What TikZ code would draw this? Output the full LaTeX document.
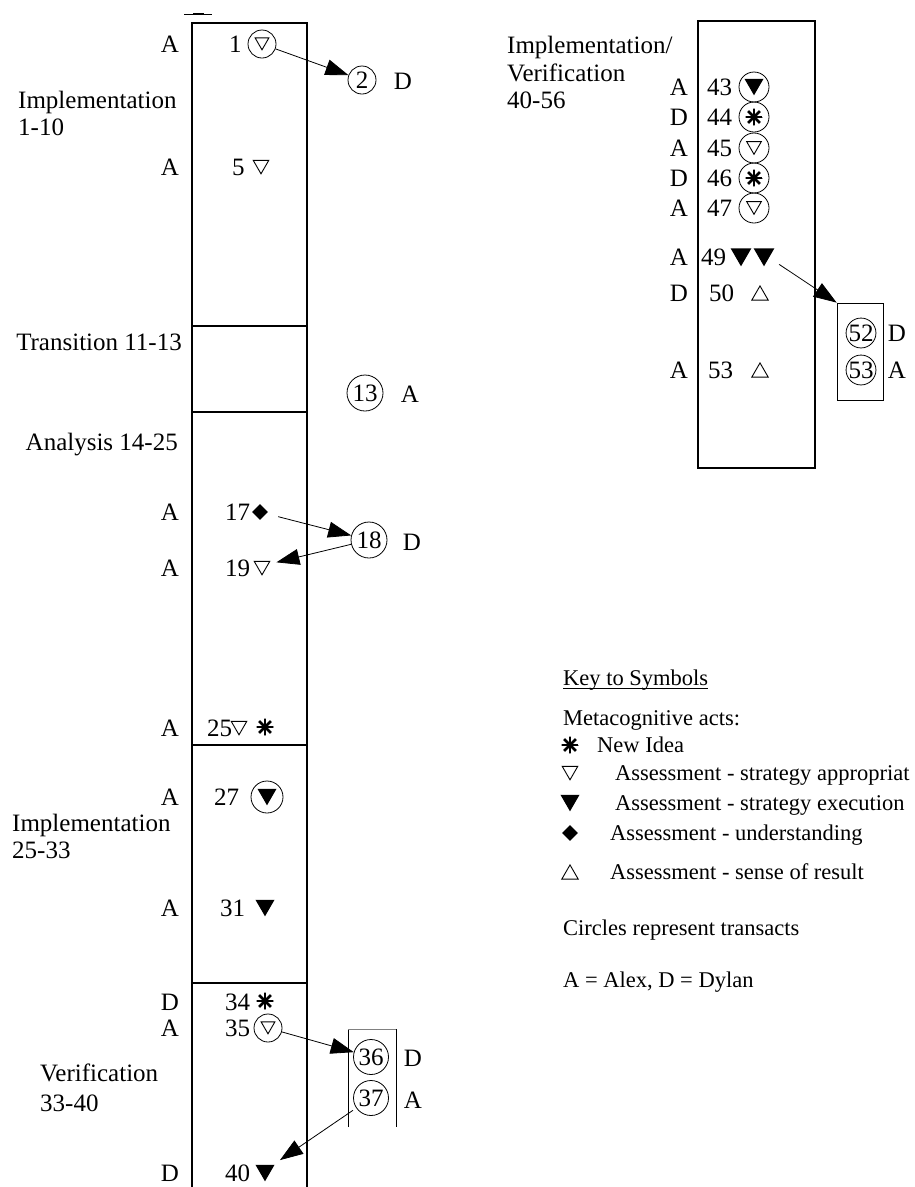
\documentclass[tikz,border=0pt]{standalone}
\usepackage{fontspec}
\setmainfont{Liberation Serif}
\usetikzlibrary{arrows.meta,shapes.geometric}
\begin{document}
\begin{tikzpicture}[x=1pt,y=-1pt,
  lbl/.style={font=\fontsize{25}{28}\selectfont, inner sep=0pt, text height=16.5pt, text depth=0pt},
  keytxt/.style={font=\fontsize{22.5}{26}\selectfont, inner sep=0pt, text height=15pt, text depth=0pt},
  col/.style={line width=2.8pt},
  thinbox/.style={line width=0.8pt},
  circ/.style={circle, draw, line width=0.8pt, inner sep=0pt, minimum size=28pt,
    font=\fontsize{25}{28}\selectfont, text height=16.5pt, text depth=0pt},
  trdown/.style={regular polygon, regular polygon sides=3, shape border rotate=180,
    draw, line width=0.9pt, inner sep=0pt, minimum size=18pt, yshift=2.2pt},
  trfill/.style={regular polygon, regular polygon sides=3, shape border rotate=180,
    fill, inner sep=0pt, minimum size=22pt, yshift=2.7pt},
  trup/.style={regular polygon, regular polygon sides=3, draw, line width=0.9pt,
    inner sep=0pt, minimum size=19pt, yshift=-2.4pt},
  dia/.style={diamond, fill, inner sep=0pt, minimum size=16pt},
  aster/.style={circle, inner sep=0pt, minimum size=17pt,
    path picture={\foreach \a in {0,45,90,135}{
      \draw[line width=2.6pt] ([shift={(\a:9pt)}]path picture bounding box.center)
        -- ([shift={(\a+180:9pt)}]path picture bounding box.center);}}},
  arr/.style={-{Triangle[length=23pt,width=16pt]}, line width=0.8pt},
]
\useasboundingbox (0,0) rectangle (914,1187);

% ---------- left column: phases 1-40 ----------
\draw[col] (192,1192) -- (192,23) -- (307,23) -- (307,1192);
\foreach \yy in {326,412,745,983} \draw[col] (192,\yy) -- (307,\yy);
\draw[line width=0.7pt] (184,14) -- (212,14);
\draw[line width=2.5pt] (193,14) -- (204,14);

\node[lbl, anchor=west] (imp1a) at (18,100) {Implementation};
\node[lbl, anchor=west] (imp1b) at (18,127) {1-10};
\node[lbl, anchor=east] (trans) at (182,342) {Transition 11-13};
\node[lbl, anchor=east] (anal) at (178,442) {Analysis 14-25};
\node[lbl, anchor=west] (imp2a) at (12,823) {Implementation};
\node[lbl, anchor=west] (imp2b) at (12,850) {25-33};
\node[lbl, anchor=west] (verA) at (40,1073) {Verification};
\node[lbl, anchor=west] (verB) at (40,1103) {33-40};

% speakers
\node[lbl] (p1) at (170,44) {A};
\node[lbl] (p5) at (170,167) {A};
\node[lbl] (p17) at (170,512) {A};
\node[lbl] (p19) at (170,568) {A};
\node[lbl] (p25) at (170,728) {A};
\node[lbl] (p27) at (170,797) {A};
\node[lbl] (p31) at (170,908) {A};
\node[lbl] (p34) at (170,1002) {D};
\node[lbl] (p35) at (170,1028) {A};
\node[lbl] (p40) at (170,1173) {D};

% episodes
\node[lbl, anchor=west] (n1) at (229,44) {1};
\node[circ] (c1) at (262,44) {};
\node[trdown, minimum size=16pt] (s1) at (c1) {};
\node[circ] (c2) at (362,80) {2};
\node[lbl] (d2) at (403,81) {D};

\node[lbl, anchor=west] (n5) at (232,167) {5};
\node[trdown] (s5) at (261,167) {};

\node[circ, minimum size=36pt] (c13) at (365,393) {13};
\node[lbl] (a13) at (410,394) {A};

\node[lbl, anchor=west] (n17) at (225,512) {17};
\node[dia] (s17) at (260,512) {};
\node[circ, minimum size=36pt] (c18) at (369,540) {18};
\node[lbl] (d18) at (412,542) {D};
\node[lbl, anchor=west] (n19) at (225,568) {19};
\node[trdown] (s19) at (262,568) {};

\node[lbl, anchor=west] (n25) at (207,728) {25};
\node[trdown] (s25) at (239,728) {};
\node[aster] (a25) at (265,727) {};

\node[lbl, anchor=west] (n27) at (214,797) {27};
\node[circ, minimum size=32pt] (c27) at (267,797) {};
\node[trfill] (s27) at (c27) {};

\node[lbl, anchor=west] (n31) at (220,908) {31};
\node[trfill] (s31) at (265,908) {};

\node[lbl, anchor=west] (n34) at (225,1002) {34};
\node[aster] (a34) at (265,1001) {};

\node[lbl, anchor=west] (n35) at (225,1028) {35};
\node[circ] (c35) at (268,1028) {};
\node[trdown, minimum size=16pt] (s35) at (c35) {};

\draw[thinbox] (348,1127) -- (348,1029);
\draw[thinbox] (396,1029) -- (396,1127);
\draw[line width=0.5pt, gray] (348,1029) -- (396,1029);
\node[circ, minimum size=35pt] (c36) at (371,1057) {36};
\node[lbl] (d36) at (413,1058) {D};
\node[circ, minimum size=35pt] (c37) at (371,1098) {37};
\node[lbl] (a37) at (413,1100) {A};

\node[lbl, anchor=west] (n40) at (225,1173) {40};
\node[trfill] (s40) at (265,1173) {};

\draw[arr] (c1) -- (c2);
\draw[arr, shorten <=12pt] (s17) -- (c18);
\draw[arr, shorten >=8pt] (c18) -- (s19);
\draw[arr] (c35) -- (c36);
\draw[arr, shorten >=8pt, shorten <=4pt] (c37) -- (s40);

% ---------- right column: phase 40-56 ----------
\draw[col] (698,21) rectangle (815,468);
\node[lbl, anchor=west] (ivA) at (507,45) {Implementation/};
\node[lbl, anchor=west] (ivB) at (507,73) {Verification};
\node[lbl, anchor=west] (ivC) at (507,100) {40-56};

\node[lbl] (p43) at (679,87) {A};
\node[lbl] (p44) at (679,117) {D};
\node[lbl] (p45) at (679,148) {A};
\node[lbl] (p46) at (679,178) {D};
\node[lbl] (p47) at (679,208) {A};
\node[lbl] (p49) at (679,257) {A};
\node[lbl] (p50) at (679,293) {D};
\node[lbl] (p53) at (679,370) {A};

\node[lbl, anchor=west] (n43) at (707,87) {43};
\node[circ, minimum size=30pt] (c43) at (754,87) {};
\node[trfill] (s43) at (c43) {};
\node[lbl, anchor=west] (n44) at (707,117) {44};
\node[circ, minimum size=30pt] (c44) at (754,117) {};
\node[aster] (s44) at (c44) {};
\node[lbl, anchor=west] (n45) at (707,148) {45};
\node[circ, minimum size=30pt] (c45) at (754,148) {};
\node[trdown, minimum size=17pt] (s45) at (c45) {};
\node[lbl, anchor=west] (n46) at (707,178) {46};
\node[circ, minimum size=30pt] (c46) at (754,178) {};
\node[aster] (s46) at (c46) {};
\node[lbl, anchor=west] (n47) at (707,208) {47};
\node[circ, minimum size=30pt] (c47) at (754,208) {};
\node[trdown, minimum size=17pt] (s47) at (c47) {};

\node[lbl, anchor=west] (n49) at (701,257) {49};
\node[trfill, minimum size=24pt] (s49a) at (741,257) {};
\node[trfill, minimum size=24pt] (s49b) at (764,257) {};
\node[lbl, anchor=west] (n50) at (709,293) {50};
\node[trup] (s50) at (760,293) {};
\node[lbl, anchor=west] (n53) at (708,370) {53};
\node[trup] (s53) at (760,370) {};

\node[draw, thinbox, minimum width=46pt, minimum height=97pt, inner sep=0pt] (box52) at (860,351.5) {};
\node[circ, minimum size=29pt] (c52) at (861,333) {52};
\node[lbl] (d52) at (897,333) {D};
\node[circ, minimum size=29pt] (c53) at (861,370) {53};
\node[lbl] (a53) at (897,370) {A};

\draw[arr, shorten <=12pt] (s49b) -- (box52.north west);

% ---------- key ----------
\node[keytxt, anchor=west] (keyT) at (563,678) {Key to Symbols};
\draw[line width=0.9pt] ([yshift=-2.5pt]keyT.south west) -- ([yshift=-2.5pt]keyT.south east);
\node[keytxt, anchor=west] (meta) at (563,718) {Metacognitive acts:};
\node[aster] (kAst) at (570,745) {};
\node[keytxt, anchor=west] (kNew) at (597,745) {New Idea};
\node[trdown] (kTr1) at (570,773) {};
\node[keytxt, anchor=west] (kApp) at (615,773) {Assessment - strategy appropriat};
\node[trfill] (kTr2) at (570,803) {};
\node[keytxt, anchor=west] (kExe) at (615,803) {Assessment - strategy execution};
\node[dia] (kDia) at (570,833) {};
\node[keytxt, anchor=west] (kUnd) at (610,833) {Assessment - understanding};
\node[trup] (kTr3) at (570,872) {};
\node[keytxt, anchor=west] (kSen) at (610,872) {Assessment - sense of result};
\node[keytxt, anchor=west] (kCirc) at (563,928) {Circles represent transacts};
\node[keytxt, anchor=west] (kNames) at (563,980) {A = Alex, D = Dylan};
\end{tikzpicture}
\end{document}
